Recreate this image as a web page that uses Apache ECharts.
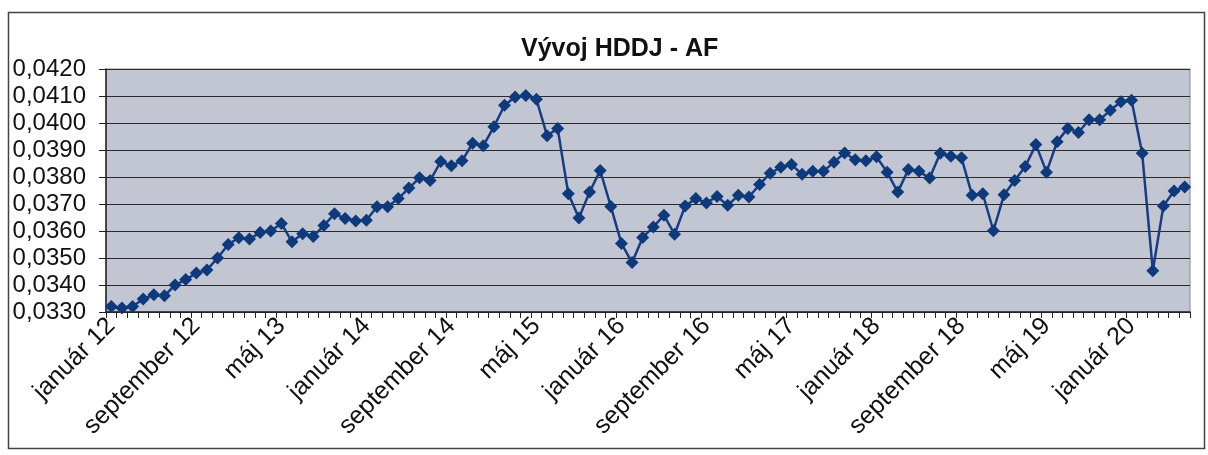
<!DOCTYPE html>
<html>
<head>
<meta charset="utf-8">
<script src="https://cdn.jsdelivr.net/npm/echarts@6/dist/echarts.min.js"></script>
<style>
html,body{margin:0;padding:0;background:#fff;}
#chart{width:1208px;height:455px;}
</style>
</head>
<body>
<div id="chart"></div>
<script>
const title = 'Vývoj HDDJ - AF';
const monthNames = ['január','február','marec','apríl','máj','jún','júl','august','september','október','november','december'];
const startYear = 12;
const values = [
  0.0332, 0.03315, 0.0332, 0.03348, 0.03364, 0.0336, 0.0340, 0.0342, 0.03444, 0.03456,
  0.0350, 0.0355, 0.03575, 0.0357, 0.03594, 0.0360, 0.03628, 0.0356, 0.0359, 0.0358,
  0.0362, 0.03664, 0.03646, 0.03637, 0.0364, 0.0369, 0.0369, 0.0372, 0.03759, 0.03797,
  0.03787, 0.03857, 0.03842, 0.0386, 0.03925, 0.03916, 0.03986, 0.04066, 0.04096, 0.04102,
  0.04088, 0.03953, 0.0398, 0.03738, 0.03648, 0.03744, 0.03824, 0.03691, 0.03554, 0.03483,
  0.03576, 0.03615, 0.03658, 0.03588, 0.03693, 0.0372, 0.03704, 0.03728, 0.03695, 0.03732,
  0.03726, 0.03772, 0.03814, 0.03836, 0.03846, 0.0381, 0.03821, 0.03821, 0.03855, 0.03889,
  0.03864, 0.0386, 0.03875, 0.03818, 0.03744, 0.03828, 0.03821, 0.03796, 0.03888, 0.03877,
  0.03871, 0.03732, 0.03738, 0.03601, 0.03734, 0.03787, 0.03839, 0.0392, 0.03818, 0.03931,
  0.0398, 0.03965, 0.04012, 0.04012, 0.04047, 0.04079, 0.04084, 0.03888, 0.03453, 0.03693,
  0.03748, 0.03763
];
const yMin = 0.033, yMax = 0.042, yStep = 0.001;

const categories = values.map((v, i) => monthNames[i % 12] + ' ' + (startYear + Math.floor(i / 12)));

const chart = echarts.init(document.getElementById('chart'));
chart.setOption({
  animation: false,
  backgroundColor: '#ffffff',
  title: {
    text: title,
    left: 516,
    top: 32,
    textStyle: { fontFamily: 'Liberation Sans, Arial, sans-serif', fontSize: 25, fontWeight: 'bold', color: '#111' }
  },
  graphic: [{
    type: 'rect',
    shape: { x: 8.5, y: 12.5, width: 1196, height: 436 },
    style: { fill: 'none', stroke: '#444', lineWidth: 1.5 },
    silent: true
  }],
  grid: {
    left: 106, right: 18, top: 69, bottom: 143,
    show: true, backgroundColor: '#c2c6d3', borderColor: '#888', borderWidth: 1
  },
  xAxis: {
    type: 'category',
    data: categories,
    boundaryGap: true,
    axisLine: { lineStyle: { color: '#222', width: 1.5 } },
    axisTick: { show: true, interval: 0, length: 6, lineStyle: { color: '#222' } },
    axisLabel: {
      interval: 7, rotate: 45, margin: 10,
      fontFamily: 'Liberation Sans, Arial, sans-serif', fontSize: 25, color: '#111'
    },
    splitLine: { show: false }
  },
  yAxis: {
    type: 'value',
    min: yMin, max: yMax, interval: yStep,
    axisLine: { show: true, lineStyle: { color: '#222', width: 1.5 } },
    axisTick: { show: true, length: 7, lineStyle: { color: '#222' } },
    axisLabel: {
      margin: 20,
      fontFamily: 'Liberation Sans, Arial, sans-serif', fontSize: 24, color: '#111',
      formatter: v => v.toFixed(4).replace('.', ',')
    },
    splitLine: { show: true, lineStyle: { color: '#2a2a2a', width: 1.2 } }
  },
  series: [{
    type: 'line',
    data: values,
    symbol: 'diamond',
    symbolSize: 13,
    showAllSymbol: true,
    lineStyle: { color: '#173c82', width: 2.5 },
    itemStyle: { color: '#0e3a7c', borderWidth: 0 }
  }]
});
</script>
</body>
</html>
